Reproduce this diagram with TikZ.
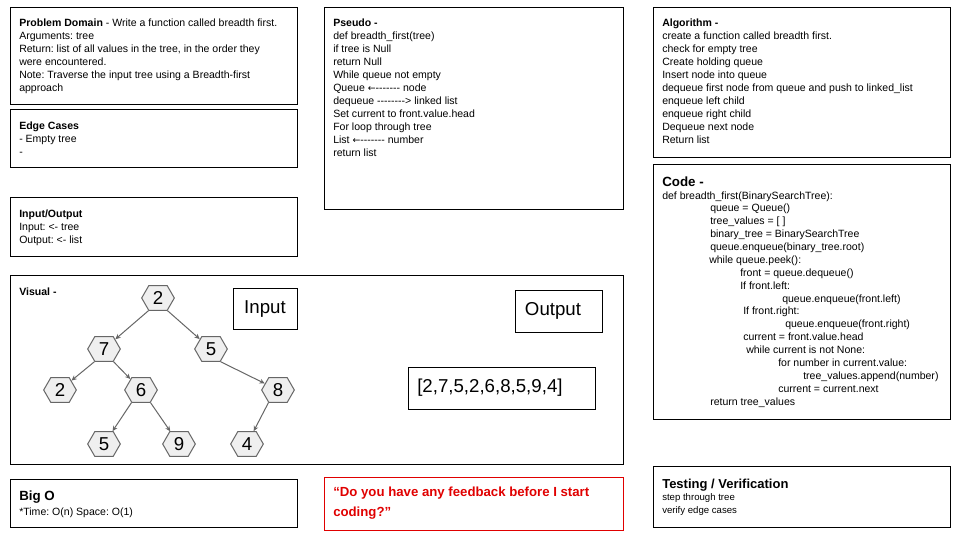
\documentclass[tikz,border=0pt]{standalone}
\usepackage{fontspec}
\setmainfont{Liberation Sans}
\newfontfamily\arrowfont{DejaVu Sans}
\frenchspacing
\usetikzlibrary{shapes.symbols,arrows.meta}
\definecolor{hexfill}{HTML}{EFEFEF}
\definecolor{hexdraw}{HTML}{666666}
\definecolor{edgegray}{HTML}{666666}
\definecolor{fbred}{HTML}{E00000}
\newcommand{\larr}{{\arrowfont\fontsize{7pt}{9pt}\selectfont ←}}
\begin{document}
\begin{tikzpicture}[x=0.75pt,y=-0.75pt,
  box/.style={draw=black,line width=0.75pt},
  redbox/.style={draw=fbred,line width=0.75pt},
  txt/.style={anchor=base west,inner sep=0pt,font=\fontsize{7.9pt}{9.9pt}\selectfont},
  smalltxt/.style={anchor=base west,inner sep=0pt,font=\fontsize{7.2pt}{9pt}\selectfont},
  bigtitle/.style={anchor=base west,inner sep=0pt,font=\fontsize{10pt}{12pt}\selectfont\bfseries},
  fbtxt/.style={anchor=base west,inner sep=0pt,text=fbred,font=\fontsize{9.9pt}{12pt}\selectfont\bfseries},
  label/.style={inner sep=0pt,font=\fontsize{14pt}{17pt}\selectfont},
  hex/.style={signal, signal to=east and west, signal pointer angle=120,
    draw=hexdraw, fill=hexfill, line width=0.75pt,
    minimum width=24.5pt, minimum height=18.5pt, inner sep=0pt,
    font=\fontsize{14pt}{17pt}\selectfont},
  tedge/.style={draw=edgegray, line width=0.75pt, -{Stealth[length=4pt,width=3.6pt]}}
]
\useasboundingbox (0,0) rectangle (960,540);

% ---------- boxes ----------
\draw[box] (10,7) rectangle (297,104);
\draw[box] (10,109) rectangle (297,167);
\draw[box] (10,197) rectangle (297,256);
\draw[box] (324,7) rectangle (623,209);
\draw[box] (653,7) rectangle (950,157);
\draw[box] (653,164) rectangle (950,419);
\draw[box] (10,275) rectangle (623,464);
\draw[box] (233,288) rectangle (297,329);
\draw[box] (515,290) rectangle (602,332);
\draw[box] (408,367) rectangle (595,409);
\draw[box] (10,479) rectangle (297,527);
\draw[redbox] (324,477) rectangle (623,530);
\draw[box] (653,466) rectangle (950,527);

% ---------- Problem Domain ----------
\foreach \t [count=\i from 0] in {
  {\textbf{Problem Domain} - Write a function called breadth first.},
  {Arguments: tree},
  {Return: list of all values in the tree, in the order they},
  {were encountered.},
  {Note: Traverse the input tree using a Breadth-first},
  {approach}}
  \node[txt] (pd\i) at (19,{26+13*\i}) {\t};

% ---------- Edge Cases ----------
\foreach \t [count=\i from 0] in {
  {\textbf{Edge Cases}},
  {- Empty tree},
  {-}}
  \node[txt] (ec\i) at (19,{129+13*\i}) {\t};

% ---------- Input/Output ----------
\foreach \t [count=\i from 0] in {
  {\textbf{Input/Output}},
  {Input: <- tree},
  {Output: <- list}}
  \node[txt] (io\i) at (19,{217+13*\i}) {\t};

% ---------- Pseudo ----------
\foreach \t [count=\i from 0] in {
  {\textbf{Pseudo -}},
  {def breadth\_first(tree)},
  {if tree is Null},
  {return Null},
  {While queue not empty},
  {Queue \larr-{}-{}-{}-{}-{}-{}- node},
  {dequeue -{}-{}-{}-{}-{}-{}-{}-> linked list},
  {Set current to front.value.head},
  {For loop through tree},
  {List \larr-{}-{}-{}-{}-{}-{}- number},
  {return list}}
  \node[txt] (ps\i) at (333,{26+13.05*\i}) {\t};

% ---------- Algorithm ----------
\foreach \t [count=\i from 0] in {
  {\textbf{Algorithm -}},
  {create a function called breadth first.},
  {check for empty tree},
  {Create holding queue},
  {Insert node into queue},
  {dequeue first node from queue and push to linked\_list},
  {enqueue left child},
  {enqueue right child},
  {Dequeue next node},
  {Return list}}
  \node[txt] (al\i) at (662,{26+13*\i}) {\t};

% ---------- Code ----------
\node[bigtitle] (codetitle) at (662,186) {Code -};
\foreach \ind/\t [count=\i from 0] in {
  0/{def breadth\_first(BinarySearchTree):},
  48/{queue = Queue()},
  48/{tree\_values = [ ]},
  48/{binary\_tree = BinarySearchTree},
  48/{queue.enqueue(binary\_tree.root)},
  47/{while queue.peek():},
  78/{front = queue.dequeue()},
  78/{If front.left:},
  120/{queue.enqueue(front.left)},
  81/{If front.right:},
  123/{queue.enqueue(front.right)},
  81/{current = front.value.head},
  84/{while current is not None:},
  116/{for number in current.value:},
  141/{tree\_values.append(number)},
  116/{current = current.next},
  48/{return tree\_values}}
  \node[txt] (cd\i) at ({662+\ind},{199+12.88*\i}) {\t};

% ---------- Visual ----------
\node[txt] (vistitle) at (19,295) {\textbf{Visual -}};
\node[label] (inlabel) at (265,309) {Input};
\node[label] (outlabel) at (553,311) {Output};
\node[label,anchor=west] (outlist) at (417,388) {[2,7,5,2,6,8,5,9,4]};

\node[hex] (root) at (158,298) {2};
\node[hex] (n7) at (104,349) {7};
\node[hex] (n5) at (211,349) {5};
\node[hex] (n2) at (60,390) {2};
\node[hex] (n6) at (141,390) {6};
\node[hex] (n8) at (278,390) {8};
\node[hex] (n5b) at (104,444) {5};
\node[hex] (n9) at (179,444) {9};
\node[hex] (n4) at (247,444) {4};

\draw[tedge] (root.233) -- (n7);
\draw[tedge] (root.307) -- (n5);
\draw[tedge] (n7.233) -- (n2);
\draw[tedge] (n7.307) -- (n6);
\draw[tedge] (n5.307) -- (n8);
\draw[tedge] (n6.233) -- (n5b);
\draw[tedge] (n6.307) -- (n9);
\draw[tedge] (n8.233) -- (n4);

% ---------- Big O ----------
\node[bigtitle] (bigotitle) at (19,500) {Big O};
\node[txt] (bigotext) at (19,515) {*Time: O(n) Space: O(1)};

% ---------- Feedback ----------
\node[fbtxt] (fb1) at (333,496) {“Do you have any feedback before I start};
\node[fbtxt] (fb2) at (333,516) {coding?”};

% ---------- Testing ----------
\node[bigtitle,font=\fontsize{9.75pt}{12pt}\selectfont\bfseries] (testtitle) at (662,488) {Testing / Verification};
\node[smalltxt] (test1) at (662,500.5) {step through tree};
\node[smalltxt] (test2) at (662,513.5) {verify edge cases};
\end{tikzpicture}
\end{document}
